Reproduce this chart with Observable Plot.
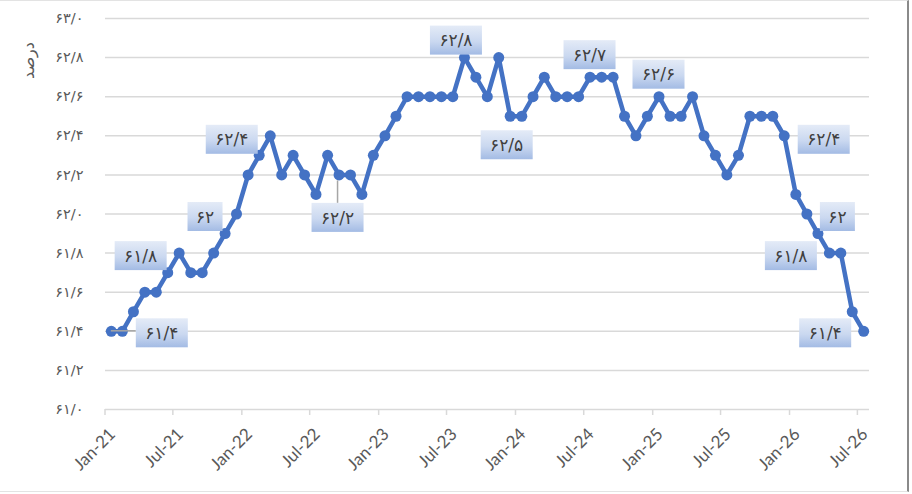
<!DOCTYPE html>
<html>
<head>
<meta charset="utf-8">
<script src="https://cdn.jsdelivr.net/npm/d3@7"></script>
<script src="https://cdn.jsdelivr.net/npm/@observablehq/plot@0.6"></script>
<style>
  html, body { margin: 0; padding: 0; background: #fff; }
  #wrap { position: relative; width: 912px; height: 494px; }
  #frame { position: absolute; left: 0; top: 0; width: 909px; height: 492px; box-sizing: border-box;
           border-top: 1px solid #e3e3e3; border-bottom: 1px solid #e3e3e3; border-right: 2px solid #8a8a8a; pointer-events: none; }
</style>
</head>
<body>
<div id="wrap"><div id="frame"></div></div>
<script>
// ---- data ----
const months = [
  "2021-01","2021-02","2021-03","2021-04","2021-05","2021-06","2021-07","2021-08","2021-09","2021-10","2021-11","2021-12",
  "2022-01","2022-02","2022-03","2022-04","2022-05","2022-06","2022-07","2022-08","2022-09","2022-10","2022-11","2022-12",
  "2023-01","2023-02","2023-03","2023-04","2023-05","2023-06","2023-07","2023-08","2023-09","2023-10","2023-11","2023-12",
  "2024-01","2024-02","2024-03","2024-04","2024-05","2024-06","2024-07","2024-08","2024-09","2024-10","2024-11","2024-12",
  "2025-01","2025-02","2025-03","2025-04","2025-05","2025-06","2025-07","2025-08","2025-09","2025-10","2025-11","2025-12",
  "2026-01","2026-02","2026-03","2026-04","2026-05","2026-06","2026-07"
];
const values = [
  61.4, 61.4, 61.5, 61.6, 61.6, 61.7, 61.8, 61.7, 61.7, 61.8, 61.9, 62.0,
  62.2, 62.3, 62.4, 62.2, 62.3, 62.2, 62.1, 62.3, 62.2, 62.2, 62.1, 62.3,
  62.4, 62.5, 62.6, 62.6, 62.6, 62.6, 62.6, 62.8, 62.7, 62.6, 62.8, 62.5,
  62.5, 62.6, 62.7, 62.6, 62.6, 62.6, 62.7, 62.7, 62.7, 62.5, 62.4, 62.5,
  62.6, 62.5, 62.5, 62.6, 62.4, 62.3, 62.2, 62.3, 62.5, 62.5, 62.5, 62.4,
  62.1, 62.0, 61.9, 61.8, 61.8, 61.5, 61.4
];
const yTicks = [61.0, 61.2, 61.4, 61.6, 61.8, 62.0, 62.2, 62.4, 62.6, 62.8, 63.0];
const xTickMonths = ["2021-01","2021-07","2022-01","2022-07","2023-01","2023-07","2024-01","2024-07","2025-01","2025-07","2026-01","2026-07"];
const xDomainMonths = ["2021-01", "2026-08"];
const labeledMonths = ["2021-01","2021-07","2021-12","2022-03","2022-09","2023-08","2023-12","2024-07","2025-01","2025-12","2026-02","2026-04","2026-07"];
const yTitle = "درصد";

// label placement (pixel offsets of the label box centre from its point)
const labelOffsets = [
  {dx: 51, dy: 2, leader: "h"},
  {dx: -38, dy: 3},
  {dx: -31, dy: 3},
  {dx: -38, dy: 4},
  {dx: -1, dy: 43, leader: "v"},
  {dx: -8, dy: -17},
  {dx: -3, dy: 29},
  {dx: 0, dy: -22},
  {dx: 0, dy: -22},
  {dx: 40, dy: 4},
  {dx: 31, dy: 3},
  {dx: -38, dy: 3},
  {dx: -38, dy: 2}
];

// ---- helpers ----
const parseMonth = d3.utcParse("%Y-%m");
const midMonth = (s) => { const a = parseMonth(s); const b = d3.utcMonth.offset(a, 1); return new Date((+a + +b) / 2); };
const faDigits = "۰۱۲۳۴۵۶۷۸۹";
const toFa = (s) => String(s).replace(/[0-9]/g, (c) => faDigits[+c]).replace(".", "/");

const data = months.map((m, i) => ({date: midMonth(m), value: values[i]}));
const labels = labeledMonths.map((m, i) => {
  const v = values[months.indexOf(m)];
  return {date: midMonth(m), value: v, text: toFa(String(v)), ...labelOffsets[i]};
});
const xTicks = xTickMonths.map(parseMonth);

const blue = "#4472C4";
const grid = "#d9d9d9";

const labelMark = Plot.text(labels, {
  x: "date", y: "value", text: "text",
  render(index, scales, vals, dims, context, next) {
    const g = d3.create("svg:g");
    const defs = g.append("defs");
    const lg = defs.append("linearGradient").attr("id", "lblGrad").attr("x1", 0).attr("y1", 0).attr("x2", 0).attr("y2", 1);
    lg.append("stop").attr("offset", "0%").attr("stop-color", "#e4ebf7");
    lg.append("stop").attr("offset", "55%").attr("stop-color", "#cad8f0");
    lg.append("stop").attr("offset", "100%").attr("stop-color", "#a3bbe4");
    for (const i of index) {
      const r = labels[i];
      const px = vals.x[i], py = vals.y[i];
      const cx = px + r.dx, cy = py + r.dy;
      const w = r.text.length > 2 ? 52 : 35, h = 29;
      if (r.leader === "h") {
        g.append("line").attr("x1", px).attr("y1", py).attr("x2", cx - w / 2).attr("y2", py)
          .attr("stroke", "#a6a6a6").attr("stroke-width", 1.5);
      } else if (r.leader === "v") {
        g.append("line").attr("x1", cx).attr("y1", py + 6).attr("x2", cx).attr("y2", cy - h / 2)
          .attr("stroke", "#a6a6a6").attr("stroke-width", 1.5);
      }
      g.append("rect").attr("x", cx - w / 2).attr("y", cy - h / 2).attr("width", w).attr("height", h)
        .attr("fill", "url(#lblGrad)");
      g.append("text").attr("x", cx).attr("y", cy).attr("dy", "0.36em").attr("text-anchor", "middle")
        .attr("font-family", "DejaVu Sans").attr("font-size", 17).attr("fill", "#404040")
        .text(r.text);
    }
    return g.node();
  }
});

const chart = Plot.plot({
  width: 912,
  height: 494,
  marginLeft: 105,
  marginRight: 43,
  marginTop: 18,
  marginBottom: 85,
  style: {background: "transparent", overflow: "visible"},
  x: {type: "utc", domain: xDomainMonths.map(parseMonth)},
  y: {domain: [61, 63]},
  marks: [
    Plot.gridY(yTicks, {stroke: grid, strokeOpacity: 1, strokeWidth: 1.5}),
    Plot.axisY(yTicks, {tickSize: 0, tickPadding: 22, tickFormat: (d) => toFa(d.toFixed(1)),
      fontFamily: "DejaVu Sans", fontSize: 14.5, fill: "#595959", label: null}),
    Plot.tickX(xTicks, {x: (d) => d, stroke: grid, strokeWidth: 1.5,
      render: (index, scales, values, dims, ctx, next) => {
        const g = d3.create("svg:g");
        const y0 = dims.height - dims.marginBottom;
        for (const i of index) {
          g.append("line").attr("x1", values.x[i]).attr("x2", values.x[i]).attr("y1", y0).attr("y2", y0 + 6)
            .attr("stroke", grid).attr("stroke-width", 1.5);
        }
        return g.node();
      }}),
    Plot.axisX(xTicks, {tickSize: 0, tickRotate: -45, tickPadding: 12,
      tickFormat: d3.utcFormat("%b-%y"), fontFamily: "Lato", fontSize: 17, fill: "#595959", label: null, dx: 7, dy: 10}),
    Plot.text([yTitle], {frameAnchor: "top-left", dx: -83, dy: 42, rotate: -90, textAnchor: "middle",
      fontFamily: "DejaVu Sans", fontSize: 16, fill: "#595959"}),
    Plot.line(data, {x: "date", y: "value", stroke: blue, strokeWidth: 4.5, strokeLinejoin: "round"}),
    Plot.dot(data, {x: "date", y: "value", r: 5.5, fill: blue}),
    labelMark
  ]
});
document.getElementById("wrap").prepend(chart);
</script>
</body>
</html>
